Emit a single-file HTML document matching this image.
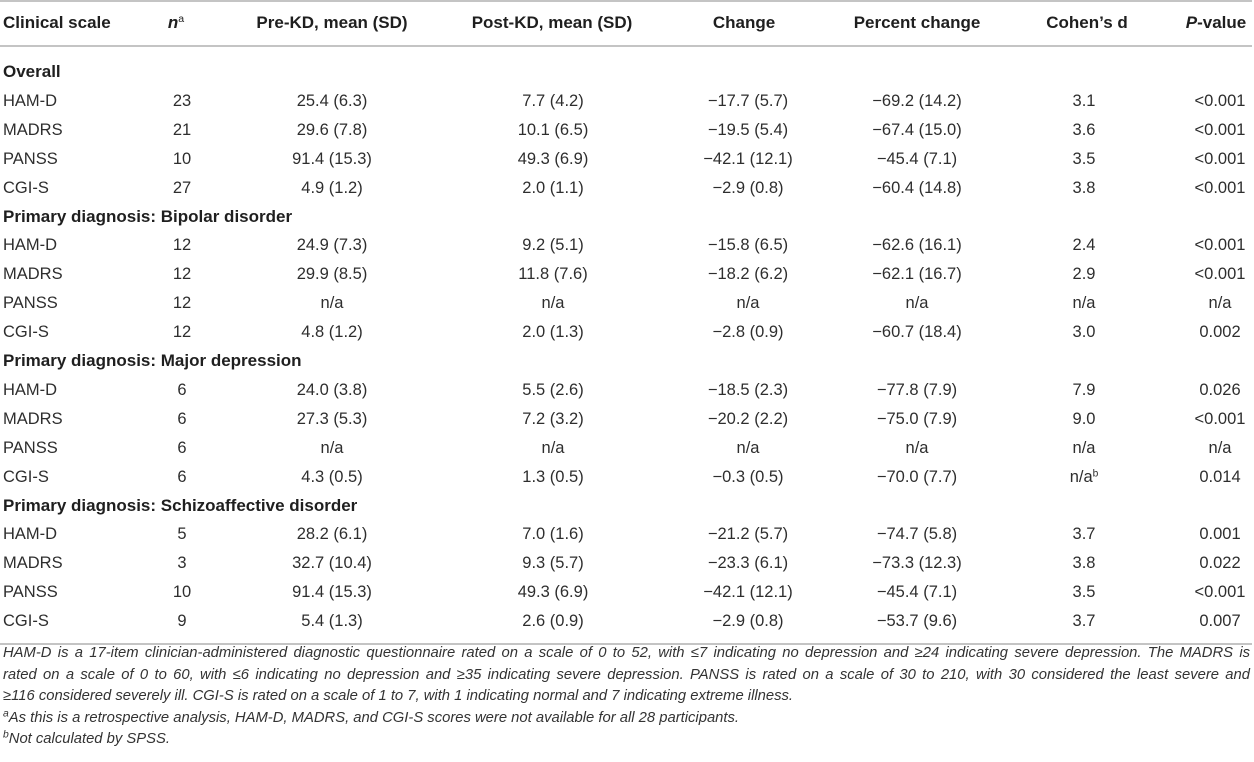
<!DOCTYPE html>
<html>
<head>
<meta charset="utf-8">
<style>
html,body{margin:0;padding:0;background:#fff;}
body{width:1254px;height:762px;position:relative;overflow:hidden;font-family:"Liberation Sans",Arial,sans-serif;color:#2e2e2e;}
.rule{position:absolute;left:0;width:1252px;height:2px;background:#c4c4c4;}
.r{position:absolute;left:0;width:1254px;height:28px;line-height:28px;font-size:16.5px;}
.r div{position:absolute;top:0;text-align:center;white-space:nowrap;}
.h{font-weight:bold;font-size:17px;color:#1f1f1f;}
.sec{position:absolute;left:3px;font-weight:bold;font-size:17px;line-height:28px;color:#1f1f1f;white-space:nowrap;}
.c0{left:3px !important;text-align:left !important;}
.c1{left:132px;width:100px;}
.c2{left:232px;width:200px;}
.c3{left:453px;width:200px;}
.c4{left:648px;width:200px;}
.c5{left:817px;width:200px;}
.c6{left:1034px;width:100px;}
.c7{left:1170px;width:100px;}
sup{font-size:0.62em;line-height:0;vertical-align:0.55em;font-weight:normal;}
.foot{position:absolute;left:3px;top:643px;width:1247px;font-size:14.8px;font-style:italic;line-height:21.5px;color:#333;}
.foot .j{text-align:justify;text-align-last:justify;white-space:nowrap;display:block;}
.foot .n{display:block;white-space:nowrap;}
.foot sup{font-size:0.7em;}
</style>
</head>
<body>
<div class="rule" style="top:0px;"></div>
<div class="rule" style="top:45px;"></div>
<div class="rule" style="top:643px;"></div>

<div class="r h" style="top:9px;">
  <div class="c0">Clinical scale</div>
  <div style="left:126px;width:100px;"><i>n</i><sup>a</sup></div>
  <div class="c2">Pre-KD, mean (SD)</div>
  <div style="left:452px;width:200px;">Post-KD, mean (SD)</div>
  <div style="left:644px;width:200px;">Change</div>
  <div class="c5">Percent change</div>
  <div style="left:1037px;width:100px;">Cohen’s d</div>
  <div style="left:1166px;width:100px;"><i>P</i>-value</div>
</div>

<div class="sec" style="top:58px;">Overall</div>
<div class="r" style="top:86.9px;"><div class="c0">HAM-D</div><div class="c1">23</div><div class="c2">25.4 (6.3)</div><div class="c3">7.7 (4.2)</div><div class="c4">−17.7 (5.7)</div><div class="c5">−69.2 (14.2)</div><div class="c6">3.1</div><div class="c7">&lt;0.001</div></div>
<div class="r" style="top:115.8px;"><div class="c0">MADRS</div><div class="c1">21</div><div class="c2">29.6 (7.8)</div><div class="c3">10.1 (6.5)</div><div class="c4">−19.5 (5.4)</div><div class="c5">−67.4 (15.0)</div><div class="c6">3.6</div><div class="c7">&lt;0.001</div></div>
<div class="r" style="top:144.7px;"><div class="c0">PANSS</div><div class="c1">10</div><div class="c2">91.4 (15.3)</div><div class="c3">49.3 (6.9)</div><div class="c4">−42.1 (12.1)</div><div class="c5">−45.4 (7.1)</div><div class="c6">3.5</div><div class="c7">&lt;0.001</div></div>
<div class="r" style="top:173.6px;"><div class="c0">CGI-S</div><div class="c1">27</div><div class="c2">4.9 (1.2)</div><div class="c3">2.0 (1.1)</div><div class="c4">−2.9 (0.8)</div><div class="c5">−60.4 (14.8)</div><div class="c6">3.8</div><div class="c7">&lt;0.001</div></div>

<div class="sec" style="top:202.5px;">Primary diagnosis: Bipolar disorder</div>
<div class="r" style="top:231.4px;"><div class="c0">HAM-D</div><div class="c1">12</div><div class="c2">24.9 (7.3)</div><div class="c3">9.2 (5.1)</div><div class="c4">−15.8 (6.5)</div><div class="c5">−62.6 (16.1)</div><div class="c6">2.4</div><div class="c7">&lt;0.001</div></div>
<div class="r" style="top:260.3px;"><div class="c0">MADRS</div><div class="c1">12</div><div class="c2">29.9 (8.5)</div><div class="c3">11.8 (7.6)</div><div class="c4">−18.2 (6.2)</div><div class="c5">−62.1 (16.7)</div><div class="c6">2.9</div><div class="c7">&lt;0.001</div></div>
<div class="r" style="top:289.2px;"><div class="c0">PANSS</div><div class="c1">12</div><div class="c2">n/a</div><div class="c3">n/a</div><div class="c4">n/a</div><div class="c5">n/a</div><div class="c6">n/a</div><div class="c7">n/a</div></div>
<div class="r" style="top:318.1px;"><div class="c0">CGI-S</div><div class="c1">12</div><div class="c2">4.8 (1.2)</div><div class="c3">2.0 (1.3)</div><div class="c4">−2.8 (0.9)</div><div class="c5">−60.7 (18.4)</div><div class="c6">3.0</div><div class="c7">0.002</div></div>

<div class="sec" style="top:347px;">Primary diagnosis: Major depression</div>
<div class="r" style="top:375.9px;"><div class="c0">HAM-D</div><div class="c1">6</div><div class="c2">24.0 (3.8)</div><div class="c3">5.5 (2.6)</div><div class="c4">−18.5 (2.3)</div><div class="c5">−77.8 (7.9)</div><div class="c6">7.9</div><div class="c7">0.026</div></div>
<div class="r" style="top:404.8px;"><div class="c0">MADRS</div><div class="c1">6</div><div class="c2">27.3 (5.3)</div><div class="c3">7.2 (3.2)</div><div class="c4">−20.2 (2.2)</div><div class="c5">−75.0 (7.9)</div><div class="c6">9.0</div><div class="c7">&lt;0.001</div></div>
<div class="r" style="top:433.7px;"><div class="c0">PANSS</div><div class="c1">6</div><div class="c2">n/a</div><div class="c3">n/a</div><div class="c4">n/a</div><div class="c5">n/a</div><div class="c6">n/a</div><div class="c7">n/a</div></div>
<div class="r" style="top:462.6px;"><div class="c0">CGI-S</div><div class="c1">6</div><div class="c2">4.3 (0.5)</div><div class="c3">1.3 (0.5)</div><div class="c4">−0.3 (0.5)</div><div class="c5">−70.0 (7.7)</div><div class="c6">n/a<sup>b</sup></div><div class="c7">0.014</div></div>

<div class="sec" style="top:491.5px;">Primary diagnosis: Schizoaffective disorder</div>
<div class="r" style="top:520.4px;"><div class="c0">HAM-D</div><div class="c1">5</div><div class="c2">28.2 (6.1)</div><div class="c3">7.0 (1.6)</div><div class="c4">−21.2 (5.7)</div><div class="c5">−74.7 (5.8)</div><div class="c6">3.7</div><div class="c7">0.001</div></div>
<div class="r" style="top:549.3px;"><div class="c0">MADRS</div><div class="c1">3</div><div class="c2">32.7 (10.4)</div><div class="c3">9.3 (5.7)</div><div class="c4">−23.3 (6.1)</div><div class="c5">−73.3 (12.3)</div><div class="c6">3.8</div><div class="c7">0.022</div></div>
<div class="r" style="top:578.2px;"><div class="c0">PANSS</div><div class="c1">10</div><div class="c2">91.4 (15.3)</div><div class="c3">49.3 (6.9)</div><div class="c4">−42.1 (12.1)</div><div class="c5">−45.4 (7.1)</div><div class="c6">3.5</div><div class="c7">&lt;0.001</div></div>
<div class="r" style="top:607.1px;"><div class="c0">CGI-S</div><div class="c1">9</div><div class="c2">5.4 (1.3)</div><div class="c3">2.6 (0.9)</div><div class="c4">−2.9 (0.8)</div><div class="c5">−53.7 (9.6)</div><div class="c6">3.7</div><div class="c7">0.007</div></div>

<div class="foot">
  <span class="j">HAM-D is a 17-item clinician-administered diagnostic questionnaire rated on a scale of 0 to 52, with ≤7 indicating no depression and ≥24 indicating severe depression. The MADRS is</span>
  <span class="j">rated on a scale of 0 to 60, with ≤6 indicating no depression and ≥35 indicating severe depression. PANSS is rated on a scale of 30 to 210, with 30 considered the least severe and</span>
  <span class="n">≥116 considered severely ill. CGI-S is rated on a scale of 1 to 7, with 1 indicating normal and 7 indicating extreme illness.</span>
  <span class="n"><sup>a</sup>As this is a retrospective analysis, HAM-D, MADRS, and CGI-S scores were not available for all 28 participants.</span>
  <span class="n"><sup>b</sup>Not calculated by SPSS.</span>
</div>
</body>
</html>
